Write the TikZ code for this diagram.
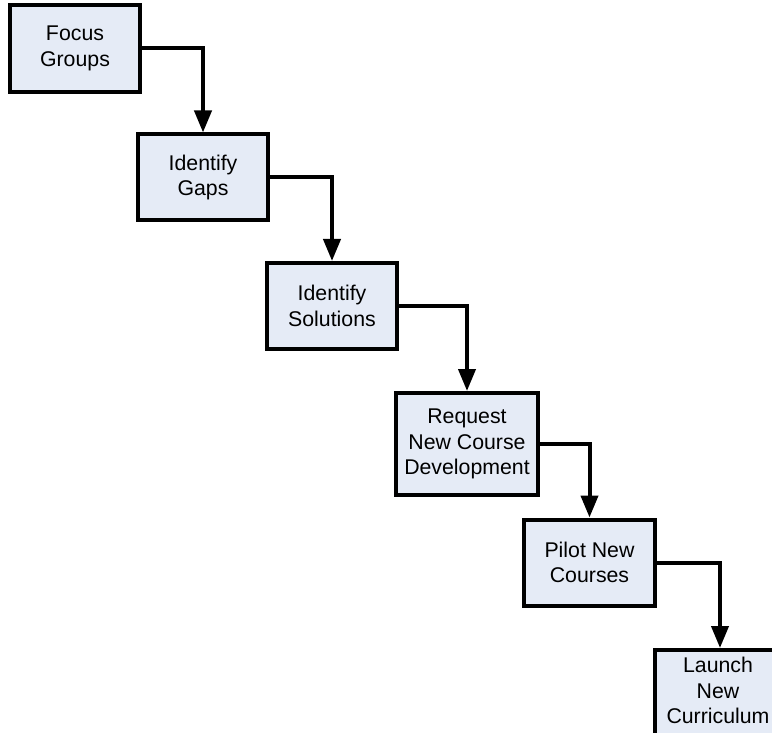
\documentclass[tikz,border=0pt]{standalone}
\usepackage{fontspec}
\setmainfont{Liberation Sans}
\usetikzlibrary{arrows.meta}
\definecolor{boxfill}{RGB}{229,235,246}
\tikzset{
  stepbox/.style={draw=black, fill=boxfill, line width=4pt, align=center,
    inner sep=0pt, font=\fontsize{21.3}{25.5}\selectfont},
  flow/.style={line width=4pt, -{Triangle[length=22pt,width=17pt]}}
}
\begin{document}
\begin{tikzpicture}[x=1pt,y=-1pt]
\useasboundingbox (0,0) rectangle (772,733);
\clip (0,0) rectangle (772,733);
\node[stepbox, minimum width=130pt, minimum height=87pt] (b1) at (75,48.5) {Focus\\Groups};
\node[stepbox, minimum width=130pt, minimum height=86pt] (b2) at (203,177.5) {Identify\\Gaps};
\node[stepbox, minimum width=130pt, minimum height=86pt] (b3) at (332,306) {Identify\\Solutions};
\node[stepbox, minimum width=142pt, minimum height=102pt] (b4) at (467,444) {Request\\New Course\\Development};
\node[stepbox, minimum width=131pt, minimum height=86pt] (b5) at (589.5,562.5) {Pilot New\\Courses};
\node[stepbox, minimum width=130pt, minimum height=110pt, anchor=north west] (b6) at (653,648) {};
\node[font=\fontsize{21.3}{25.5}\selectfont, align=center, anchor=north, inner sep=0pt] (t6) at (718,657) {Launch\\New\\Curriculum};
\draw[flow] (b1.east) -| (b2.north);
\draw[flow] (b2.east) -| (b3.north);
\draw[flow] (b3.east) -| (b4.north);
\draw[flow] (b4.east) -| (b5.north);
\draw[flow] (b5.east) -| (b6.north);
\end{tikzpicture}
\end{document}
